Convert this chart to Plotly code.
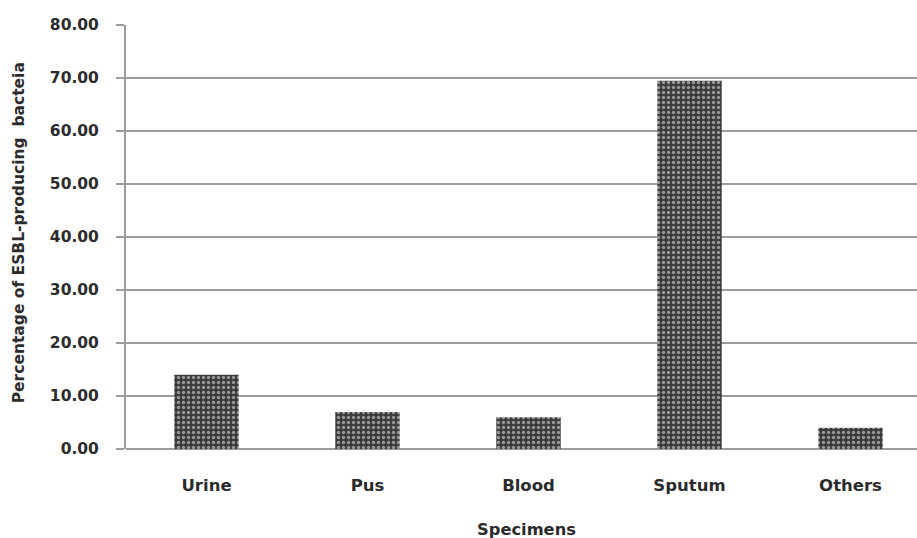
import plotly.graph_objects as go

# Specimen categories and share of ESBL-producing isolates (%)
specimens = ["Urine", "Pus", "Blood", "Sputum", "Others"]
percentages = [14.0, 7.0, 6.0, 69.5, 4.0]
y_ticks = [0, 10, 20, 30, 40, 50, 60, 70, 80]
y_tick_text = [f"{v:.2f}" for v in y_ticks]

FONT = "DejaVu Sans"
TEXT = "#2b2b2b"
GRID = "#9c9c9c"

fig = go.Figure(
    go.Bar(
        x=specimens,
        y=percentages,
        width=0.40,
        marker=dict(
            color="#3a3a3a",
            line=dict(width=0),
            # dark fill with a fine lattice of light dots
            pattern=dict(shape=".", size=5, solidity=0.35,
                         fgcolor="#f4f4f4", bgcolor="#3a3a3a"),
        ),
        hoverinfo="skip",
    )
)

fig.update_layout(
    width=917,
    height=538,
    margin=dict(l=126, r=0, t=25, b=89),
    paper_bgcolor="white",
    plot_bgcolor="white",
    showlegend=False,
    font=dict(family=FONT, color=TEXT),
    xaxis=dict(
        range=[-0.5, 4.413],
        showgrid=False,
        showline=False,
        ticks="",
        tickfont=dict(family=FONT, size=16.5, color=TEXT, weight="bold"),
        ticklabelstandoff=24,
        fixedrange=True,
    ),
    yaxis=dict(
        range=[0, 80],
        tickvals=y_ticks,
        ticktext=y_tick_text,
        showgrid=True,
        gridcolor=GRID,
        gridwidth=2,
        zeroline=True,
        zerolinecolor=GRID,
        zerolinewidth=2,
        showline=True,
        linecolor=GRID,
        linewidth=2,
        ticks="outside",
        ticklen=8,
        tickwidth=2,
        tickcolor=GRID,
        tickfont=dict(family=FONT, size=15.5, color=TEXT, weight="bold"),
        ticklabelstandoff=14,
        fixedrange=True,
    ),
    annotations=[
        dict(
            text="Percentage of ESBL-producing  bacteia",
            xref="paper", yref="paper",
            x=-0.1353, y=0.511,
            xanchor="center", yanchor="middle",
            textangle=-90, showarrow=False,
            font=dict(family=FONT, size=15.5, color=TEXT, weight="bold"),
        ),
        dict(
            text="Specimens",
            xref="paper", yref="paper",
            x=0.506, y=-0.1887,
            xanchor="center", yanchor="middle",
            showarrow=False,
            font=dict(family=FONT, size=16.3, color=TEXT, weight="bold"),
        ),
    ],
)

fig.write_html("out.html")
